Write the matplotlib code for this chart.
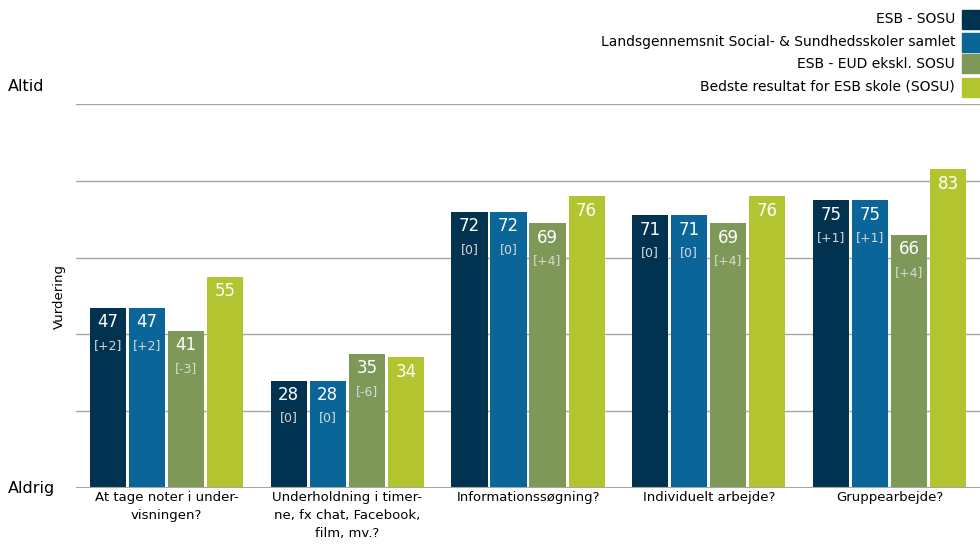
import matplotlib.pyplot as plt
from matplotlib.patches import Rectangle
import numpy as np

# Data
categories = ['At tage noter i under-\nvisningen?',
              'Underholdning i timer-\nne, fx chat, Facebook,\nfilm, mv.?',
              'Informationssøgning?',
              'Individuelt arbejde?',
              'Gruppearbejde?']
series_names = ['ESB - SOSU',
                'Landsgennemsnit Social- & Sundhedsskoler samlet',
                'ESB - EUD ekskl. SOSU',
                'Bedste resultat for ESB skole (SOSU)']
esb_sosu = [47, 28, 72, 71, 75]
lands = [47, 28, 72, 71, 75]
esb_eud = [41, 35, 69, 69, 66]
bedste = [55, 34, 76, 76, 83]
esb_sosu_diff = ['[+2]', '[0]', '[0]', '[0]', '[+1]']
lands_diff = ['[+2]', '[0]', '[0]', '[0]', '[+1]']
esb_eud_diff = ['[-3]', '[-6]', '[+4]', '[+4]', '[+4]']
bedste_diff = [None, None, None, None, None]

colors = ['#01324f', '#0a6699', '#7e9957', '#b2c42f']
values = [esb_sosu, lands, esb_eud, bedste]
diffs = [esb_sosu_diff, lands_diff, esb_eud_diff, bedste_diff]

fig = plt.figure(figsize=(9.8, 5.5), dpi=100)
ax = fig.add_axes([0.0776, 0.1127, 1 - 0.0776, 0.698])

x = np.arange(len(categories))
width = 0.2
pitch = 0.216
for i, (vals, dl, col) in enumerate(zip(values, diffs, colors)):
    pos = x + (i - 1.5) * pitch
    bars = ax.bar(pos, vals, width=width, color=col, zorder=3)
    for b, v, d in zip(bars, vals, dl):
        cx = b.get_x() + b.get_width() / 2
        ax.annotate(str(v), (cx, v), xytext=(0, -10.5), textcoords='offset points',
                    ha='center', va='center', color='white', fontsize=12, zorder=4)
        if d:
            ax.annotate(d, (cx, v), xytext=(0, -27), textcoords='offset points',
                        ha='center', va='center', color='#d8d8d8', fontsize=9, zorder=4)

ax.set_xlim(-0.5, 4.5)
ax.set_ylim(0, 100)
for y in [20, 40, 60, 80, 100]:
    ax.axhline(y, color='#a6a6a6', lw=1, zorder=1)
ax.axhline(0, color='#a6a6a6', lw=1.5, zorder=5)
for s in ax.spines.values():
    s.set_visible(False)
ax.set_yticks([])
ax.set_xticks(x)
ax.set_xticklabels(categories, fontsize=9.5, va='top', linespacing=1.5)
ax.tick_params(axis='x', length=0, pad=2)

# y axis texts
ax.text(-0.075, 104.5, 'Altid', transform=ax.get_yaxis_transform(),
        ha='left', va='center', fontsize=11.5)
ax.text(-0.075, 0, 'Aldrig', transform=ax.get_yaxis_transform(),
        ha='left', va='center', fontsize=11.5)
ax.text(-0.018, 50, 'Vurdering', transform=ax.get_yaxis_transform(),
        ha='center', va='center', rotation=90, fontsize=9.5)

# legend, right aligned text with boxes on the right
ys = [19, 42, 64, 87]
for name, col, yp in zip(series_names, colors, ys):
    fy = 1 - yp / 550
    fig.text(955 / 980, fy, name, ha='right', va='center', fontsize=10)
    fig.patches.append(Rectangle((962 / 980, fy - 9.5 / 550), 18 / 980, 19 / 550,
                                 transform=fig.transFigure, color=col, figure=fig))

fig.savefig('out.png', dpi=100)
